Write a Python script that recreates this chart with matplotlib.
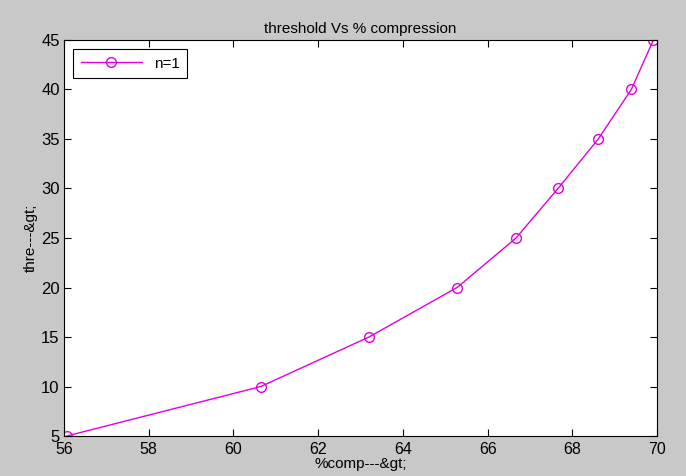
import matplotlib
matplotlib.use("Agg")
import matplotlib.pyplot as plt

# values
comp = [56.07, 60.65, 63.20, 65.28, 66.67, 67.66, 68.61, 69.39, 69.91]
thre = [5, 10, 15, 20, 25, 30, 35, 40, 45]
xticks = [56, 58, 60, 62, 64, 66, 68, 70]
yticks = [5, 10, 15, 20, 25, 30, 35, 40, 45]

plt.rcParams["font.family"] = ["Liberation Sans", "DejaVu Sans"]

fig = plt.figure(figsize=(6.86, 4.76), dpi=100, facecolor="#c8c8c8")
ax = fig.add_axes([0.093, 0.084, 0.865, 0.832])
ax.plot(comp, thre, "-o", color="#e000e0", lw=1, ms=7, mfc="none",
        mew=1, label="n=1")

ax.set_xlim(56, 70)
ax.set_ylim(5, 45)
ax.set_xticks(xticks)
ax.set_yticks(yticks)
ax.tick_params(direction="in", top=True, right=True, labelsize=12,
               length=5, pad=3)
ax.tick_params(axis="x", pad=4.5, labelsize=11.5)
ax.set_title("threshold Vs % compression", fontsize=11, pad=5)
ax.set_xlabel("%comp---&gt;", fontsize=11, labelpad=0)
ax.set_ylabel("thre---&gt;", fontsize=11, labelpad=2)

leg = ax.legend(loc="upper left", fontsize=11, fancybox=False,
                edgecolor="black", framealpha=1, handlelength=4,
                borderaxespad=0.6, borderpad=0.5)
leg.get_frame().set_linewidth(0.8)

fig.savefig("out.png", dpi=100, facecolor=fig.get_facecolor())
